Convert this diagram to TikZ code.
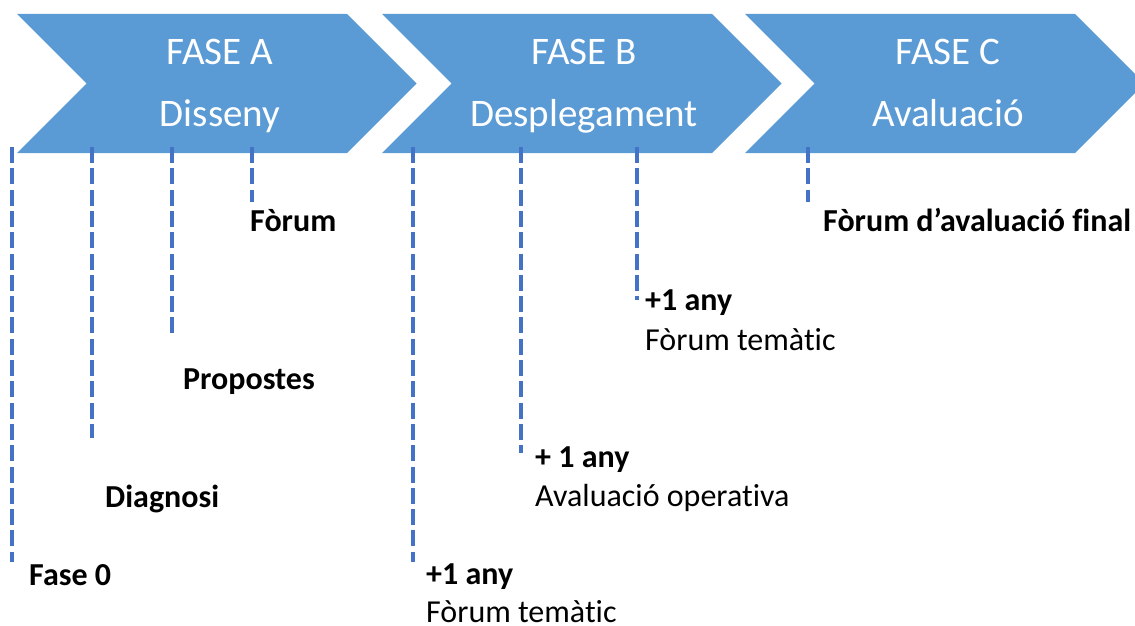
\documentclass[tikz,border=0pt]{standalone}
\usepackage{fontspec}
\setmainfont{Carlito}[Ligatures=NoCommon]
\definecolor{chev}{HTML}{5B9BD5}
\definecolor{dashblue}{HTML}{4472C4}
\begin{document}
\begin{tikzpicture}[x=1pt,y=-1pt,
  chevron/.style={fill=chev,draw=none},
  marker/.style={draw=dashblue,line width=4pt,dash pattern=on 16pt off 5.3pt},
  lbl/.style={anchor=base west,inner sep=0pt,font=\fontsize{32}{38}\selectfont\bfseries},
  sub/.style={anchor=base west,inner sep=0pt,font=\fontsize{32}{38}\selectfont},
  head/.style={anchor=base,inner sep=0pt,text=white,font=\fontsize{39}{47}\selectfont}]
\useasboundingbox (0,0) rectangle (1135,626);
\clip (0,0) rectangle (1135,626);
% chevrons
\fill[chevron] (17,14) -- (347,14) -- (416.5,83.5) -- (347,153) -- (17,153) -- (86.5,83.5) -- cycle;
\fill[chevron] (382,14) -- (712,14) -- (781.5,83.5) -- (712,153) -- (382,153) -- (451.5,83.5) -- cycle;
\fill[chevron] (745,14) -- (1075,14) -- (1144.5,83.5) -- (1075,153) -- (745,153) -- (814.5,83.5) -- cycle;
% headings
\node[head] (a1) at (220,65) {FASE A};
\node[head] (a2) at (220,126) {Disseny};
\node[head] (b1) at (584,65) {FASE B};
\node[head] (b2) at (584,126) {Desplegament};
\node[head] (c1) at (948,65) {FASE C};
\node[head] (c2) at (948,126) {Avaluació};
% marker lines
\foreach \n/\x/\yb in {1/12/562, 2/92/438, 3/172/333, 4/252/202, 5/413/562, 6/521/453, 7/637/300, 8/808/202}{
  \coordinate (t\n) at (\x,147);
  \coordinate (e\n) at (\x,\yb);
  \draw[marker] (t\n) -- (e\n);
}
% labels
\node[lbl] (fase0) at (29,585) {Fase 0};
\node[lbl] (diag) at (105,507) {Diagnosi};
\node[lbl] (prop) at (183,389) {Propostes};
\node[lbl] (forum) at (250,231) {Fòrum};
\node[lbl] (ffinal) at (823,231) {Fòrum d’avaluació final};
\node[lbl] (any1) at (645,310) {+1 any};
\node[sub] (ft1) at (645,350) {Fòrum temàtic};
\node[lbl] (any2) at (535,467) {+ 1 any};
\node[sub] (aop) at (535,506) {Avaluació operativa};
\node[lbl] (any3) at (426,584) {+1 any};
\node[sub] (ft2) at (426,622) {Fòrum temàtic};
\end{tikzpicture}
\end{document}
